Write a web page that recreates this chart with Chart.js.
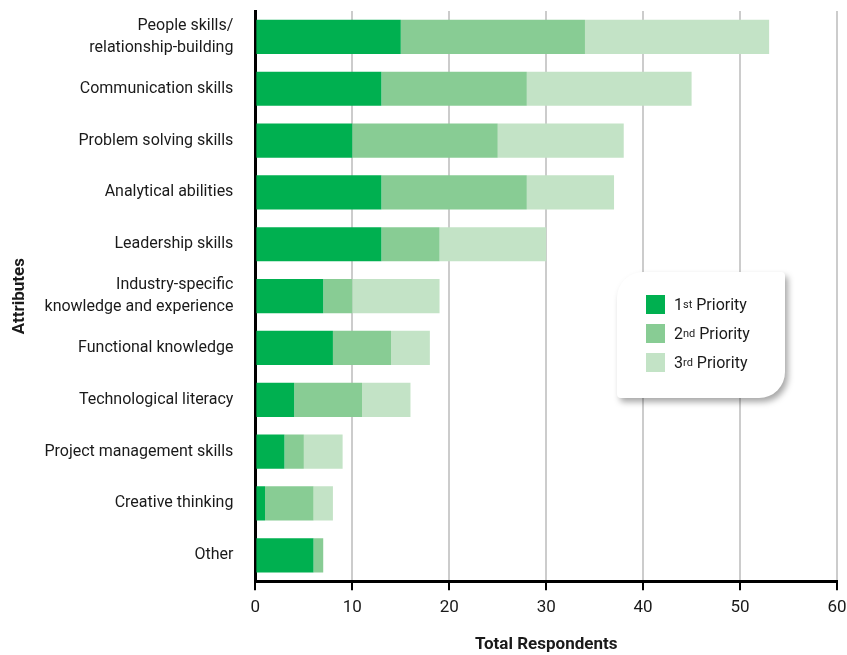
<!DOCTYPE html>
<html>
<head>
<meta charset="utf-8">
<script src="https://cdn.jsdelivr.net/npm/chart.js@4"></script>
<style>
  html, body { margin: 0; padding: 0; background: #fff; }
  #wrap { position: relative; width: 847px; height: 655px; }
  #legendBox {
    position: absolute; left: 617px; top: 272px; width: 168px; height: 126px;
    background: #fff; border-radius: 26px 4px 26px 4px;
    box-shadow: 3px 4px 6px rgba(0,0,0,0.35);
    font-family: Roboto, sans-serif; font-size: 16px; color: #1a1a1a;
    box-sizing: border-box; padding-top: 18px;
  }
  .item { display: flex; align-items: center; height: 29px; padding-left: 29px; }
  .sw { width: 19px; height: 19px; margin-right: 9px; }
  sup { font-size: 11px; vertical-align: 5px; line-height: 0; }
</style>
</head>
<body>
<div id="wrap">
  <canvas id="chart" width="847" height="655"></canvas>
  <div id="legendBox"></div>
</div>
<script>
window.document.addEventListener("DOMContentLoaded", () => {

  // categories, top to bottom
  var attributes = [
    ["People skills/", "relationship-building"],
    "Communication skills",
    "Problem solving skills",
    "Analytical abilities",
    "Leadership skills",
    ["Industry-specific", "knowledge and experience"],
    "Functional knowledge",
    "Technological literacy",
    "Project management skills",
    "Creative thinking",
    "Other"
  ];
  var firstPriority  = [15, 13, 10, 13, 13, 7, 8, 4, 3, 1, 6];
  var secondPriority = [19, 15, 15, 15, 6, 3, 6, 7, 2, 5, 1];
  var thirdPriority  = [19, 17, 13, 9, 11, 9, 4, 5, 4, 2, 0];
  var xTicks = [0, 10, 20, 30, 40, 50, 60];

  var seriesNames = [["1", "st"], ["2", "nd"], ["3", "rd"]];
  var colors = ['#00b050', '#88cc94', '#c3e3c6'];

  var labelFont = { family: 'Roboto, sans-serif', size: 16, lineHeight: 1.4 };
  var tickFont = { family: 'Roboto, sans-serif', size: 17 };
  var titleFont = { family: 'Roboto, sans-serif', size: 17, weight: 'bold' };

  var ctx = document.getElementById('chart');
  var chart = new Chart(ctx, {
    type: 'bar',
    data: {
      labels: attributes,
      datasets: [firstPriority, secondPriority, thirdPriority].map((d, i) => ({
        label: seriesNames[i].join('') + ' Priority',
        data: d,
        backgroundColor: colors[i],
        borderWidth: 0,
        barPercentage: 0.66,
        categoryPercentage: 1
      }))
    },
    options: {
      indexAxis: 'y',
      responsive: false,
      animation: false,
      layout: { padding: { top: 11, right: 0, left: 0, bottom: 0 } },
      plugins: {
        legend: { display: false },
        tooltip: { enabled: false }
      },
      scales: {
        x: {
          stacked: true,
          min: 0, max: 60,
          afterBuildTicks: (axis) => { axis.ticks = xTicks.map(v => ({ value: v })); },
          afterFit: (axis) => { axis.paddingRight = 10; },
          grid: { color: '#cccccc', lineWidth: 2, tickColor: '#000', tickLength: 9, tickWidth: 2 },
          border: { color: '#000', width: 3 },
          ticks: { color: '#1a1a1a', font: tickFont, padding: 7 },
          title: { display: true, text: 'Total Respondents', color: '#1a1a1a',
                   font: titleFont, padding: { top: 10, bottom: 0 } }
        },
        y: {
          stacked: true,
          afterFit: (axis) => { axis.paddingTop = 0; axis.paddingBottom = 0; },
          grid: { display: false },
          border: { color: '#000', width: 3 },
          ticks: { color: '#1a1a1a', font: labelFont, padding: 14, autoSkip: false },
          title: { display: true, text: 'Attributes', color: '#1a1a1a',
                   font: titleFont, padding: { top: 10, bottom: 0 } }
        }
      }
    }
  });

  // legend with superscript ordinals
  var box = document.getElementById('legendBox');
  seriesNames.forEach((n, i) => {
    var row = document.createElement('div');
    row.className = 'item';
    row.innerHTML = '<span class="sw" style="background:' + colors[i] + '"></span>' +
      n[0] + '<sup>' + n[1] + '</sup>&nbsp;Priority';
    box.appendChild(row);
  });
});
</script>
</body>
</html>
